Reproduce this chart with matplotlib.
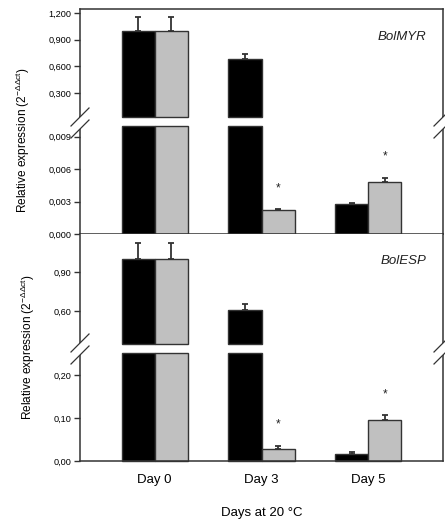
import matplotlib
matplotlib.use('Agg')
import matplotlib.pyplot as plt
from matplotlib.lines import Line2D
from matplotlib.patches import Polygon
from matplotlib.ticker import FuncFormatter
import numpy as np

plt.rcParams['font.family'] = ['Liberation Sans', 'DejaVu Sans']
plt.rcParams['mathtext.fontset'] = 'custom'
plt.rcParams['mathtext.rm'] = 'Liberation Sans'
plt.rcParams['mathtext.it'] = 'Liberation Sans:italic'

days = ['Day 0', 'Day 3', 'Day 5']

# BolMYR
myr_black = [1.0, 0.685, 0.00278]
myr_black_err = [0.15, 0.05, 0.0001]
myr_gray = [1.0, 0.00222, 0.00484]
myr_gray_err = [0.15, 0.0001, 0.00037]
myr_star = [False, True, True]

# BolESP
esp_black = [1.0, 0.608, 0.017]
esp_black_err = [0.12, 0.045, 0.003]
esp_gray = [1.0, 0.0286, 0.096]
esp_gray_err = [0.12, 0.007, 0.011]
esp_star = [False, True, True]

W, H = 445, 531
fig = plt.figure(figsize=(W / 100, H / 100), dpi=100)

X0, X1 = 80, 443
EDGE = '#333333'


def add_ax(ytop, ybot):
    return fig.add_axes([X0 / W, 1 - ybot / H, (X1 - X0) / W, (ybot - ytop) / H])


def fig_line(xs, ys, **kw):
    fig.add_artist(Line2D([x / W for x in xs], [1 - y / H for y in ys],
                          transform=fig.transFigure, **kw))


def comma_fmt(nd):
    return FuncFormatter(lambda v, p: ('{:.%df}' % nd).format(v).replace('.', ','))


def draw_segment(ax, black, gray, berr, gerr, stars, lo, hi, upper):
    x = np.arange(len(black))
    w = 0.31
    for vals, errs, off, col in [(black, berr, -w / 2, 'black'), (gray, gerr, w / 2, '#c0c0c0')]:
        for i, v in enumerate(vals):
            if upper:
                if v <= lo:
                    continue
                ax.bar(x[i] + off, v - lo, bottom=lo, width=w, color=col,
                       edgecolor=EDGE, linewidth=1, clip_on=False, zorder=2)
            else:
                ax.bar(x[i] + off, min(v, hi), width=w, color=col,
                       edgecolor=EDGE, linewidth=1, clip_on=False, zorder=2)
            if lo < v <= hi or (upper and v > lo):
                ax.errorbar(x[i] + off, v, yerr=[[0], [errs[i]]], fmt='none',
                            ecolor=EDGE, elinewidth=1.3, capsize=2.5, capthick=1.3, zorder=3)
                if col != 'black' and stars[i]:
                    ax.annotate('*', (x[i] + off, v + errs[i]), xytext=(0, 15),
                                textcoords='offset points', ha='center', va='center',
                                fontsize=8.5, color='#222222')
    ax.set_xlim(-0.70, 2.70)
    ax.set_ylim(lo, hi)
    for s in ax.spines.values():
        s.set_color(EDGE)
        s.set_linewidth(1.1)
    ax.tick_params(axis='y', direction='out', length=4, width=1, color=EDGE,
                   labelsize=6.6, pad=2)
    ax.tick_params(axis='x', length=0)
    ax.set_xticks(x)
    ax.set_xticklabels([])


# top panel
a1 = add_ax(9, 117)
a2 = add_ax(126, 234)
draw_segment(a1, myr_black, myr_gray, myr_black_err, myr_gray_err, myr_star, 0.0275, 1.245, True)
draw_segment(a2, myr_black, myr_gray, myr_black_err, myr_gray_err, myr_star, 0.0, 0.010, False)
a1.set_yticks([0.3, 0.6, 0.9, 1.2])
a1.yaxis.set_major_formatter(comma_fmt(3))
a2.set_yticks([0, 0.003, 0.006, 0.009])
a2.yaxis.set_major_formatter(comma_fmt(3))
a1.spines['bottom'].set_visible(False)
a2.spines['top'].set_visible(False)
a1.text(0.955, 0.74, 'BolMYR', transform=a1.transAxes, ha='right', va='center',
        fontsize=9.5, style='italic', color='#222222')

# bottom panel
a3 = add_ax(234, 344)
a4 = add_ax(353, 461)
draw_segment(a3, esp_black, esp_gray, esp_black_err, esp_gray_err, esp_star, 0.346, 1.192, True)
draw_segment(a4, esp_black, esp_gray, esp_black_err, esp_gray_err, esp_star, 0.0, 0.251, False)
a3.set_yticks([0.6, 0.9])
a3.yaxis.set_major_formatter(comma_fmt(2))
a4.set_yticks([0, 0.1, 0.2])
a4.yaxis.set_major_formatter(comma_fmt(2))
a3.spines['top'].set_visible(False)
a3.spines['bottom'].set_visible(False)
a4.spines['top'].set_visible(False)
a4.set_xticklabels(days, fontsize=9.5)
a4.tick_params(axis='x', pad=9)
a3.text(0.955, 0.75, 'BolESP', transform=a3.transAxes, ha='right', va='center',
        fontsize=9.5, style='italic', color='#222222')

# spines through the gaps and break marks
for gtop, gbot, yc in [(117, 126, 123), (344, 353, 349)]:
    for xs in (X0, X1):
        fig_line([xs, xs], [gtop, gbot], color=EDGE, linewidth=1.1)
        d = 9
        up = [(xs - d, yc - 6 + d), (xs + d, yc - 6 - d)]
        lw = [(xs - d, yc + 6 + d), (xs + d, yc + 6 - d)]
        poly = [up[0], up[1], lw[1], lw[0]]
        fig.add_artist(Polygon([(px / W, 1 - py / H) for px, py in poly], closed=True,
                               transform=fig.transFigure, facecolor='white',
                               edgecolor='none', zorder=10))
        for seg in (up, lw):
            fig_line([p[0] for p in seg], [p[1] for p in seg], color=EDGE,
                     linewidth=0.9, zorder=11)

ylab = r'Relative expression (2$^{\mathregular{-\Delta\Delta ct}}$)'
fig.text(23 / W, 1 - 140 / H, ylab, rotation=90, ha='center', va='center', fontsize=8.6)
fig.text(28 / W, 1 - 347 / H, ylab, rotation=90, ha='center', va='center', fontsize=8.6)
fig.text(262 / W, 1 - 513 / H, 'Days at 20 °C', ha='center', va='center', fontsize=9.5)

fig.savefig('out.png', dpi=100)
plt.close()
